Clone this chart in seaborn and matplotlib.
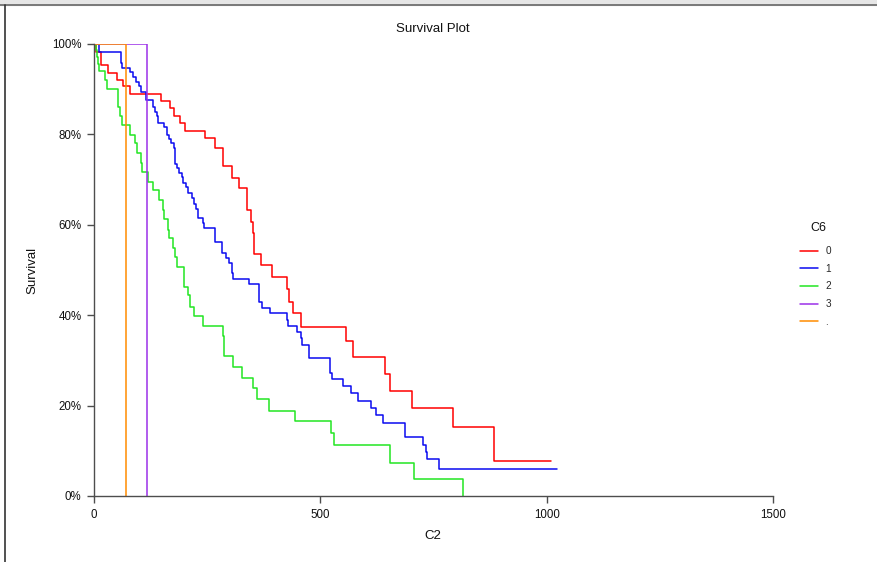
import numpy as np
import pandas as pd
import matplotlib
matplotlib.use("Agg")
import matplotlib.pyplot as plt
from matplotlib.ticker import PercentFormatter
from matplotlib.lines import Line2D
import seaborn as sns

# ---- data ----
groups = ["0", "1", "2", "3", "."]

t_0 = [0, 4, 15, 31, 51, 64, 79, 147, 167, 177, 189, 200, 245, 267, 284, 304, 321,
       337, 347, 351, 353, 370, 394, 427, 431, 440, 457, 557, 573, 643, 655, 702,
       792, 884, 1010]
s_0 = [100, 98.2, 95.4, 93.5, 92.0, 90.6, 88.9, 87.5, 85.8, 84.1, 82.5, 80.8, 79.1,
       77.1, 72.9, 70.3, 68.2, 63.3, 60.7, 58.1, 53.5, 51.1, 48.5, 45.8, 43.0, 40.4,
       37.3, 34.4, 30.8, 27.0, 23.2, 19.4, 15.3, 7.7, 7.7]

t_1 = [0, 11, 59, 62.5, 79, 86, 93, 99, 104.5, 115.5, 131, 135, 139, 142, 154.6,
       160.6, 165.7, 169.4, 176.7, 178.9, 180, 182.7, 187.8, 193.7, 197.3, 203.2,
       208.3, 215.8, 221.6, 225.3, 230.4, 240.1, 243, 267.3, 282.1, 291.6, 298.2,
       304.2, 307.7, 343.1, 363.8, 371.8, 388.8, 425.7, 427.9, 449.1, 456.6, 460.2,
       475, 521.4, 525.1, 549.4, 567.1, 583.9, 611.9, 623, 639.1, 687.5, 727.5,
       732.8, 735, 762.8, 1022]
s_1 = [100, 98.2, 95.9, 94.6, 93.7, 92.8, 91.7, 90.6, 89.4, 87.6, 86.0, 85.0, 84.1,
       82.5, 81.6, 79.9, 78.9, 78.0, 76.9, 75.2, 73.5, 72.5, 71.4, 70.5, 69.3, 68.4,
       67.0, 65.9, 64.5, 63.4, 61.6, 60.5, 59.4, 56.3, 53.7, 52.6, 51.5, 49.3, 47.9,
       46.8, 43.0, 41.7, 40.4, 38.9, 37.7, 36.3, 34.9, 33.3, 30.5, 27.3, 25.8, 24.3,
       22.7, 21.1, 19.4, 17.9, 16.2, 13.0, 11.3, 9.7, 8.1, 5.9, 5.9]

t_2 = [0, 4.4, 6.6, 8.8, 11, 25, 29.4, 53, 54.1, 56.8, 62.5, 78.9, 91.2, 95.7, 104.5,
       106.7, 120, 131, 144.3, 151.8, 155.3, 164.1, 166.3, 175.2, 178.9, 182.7, 199.5,
       208.3, 212.1, 221.6, 240.1, 284.3, 287.2, 307.7, 327.6, 351.9, 359.4, 386.6,
       444, 523.6, 530.8, 653.9, 707.6, 814.5]
s_2 = [100, 98.7, 97.1, 95.6, 94.1, 92.0, 90.0, 88.1, 86.1, 84.1, 82.1, 79.9, 78.0,
       75.8, 73.7, 71.7, 69.5, 67.7, 65.5, 63.3, 61.2, 58.8, 57.0, 54.8, 52.8, 50.7,
       46.3, 44.5, 41.9, 39.8, 37.6, 35.4, 31.0, 28.6, 26.2, 23.8, 21.4, 18.9, 16.7,
       13.9, 11.3, 7.4, 3.7, 0.0]

t_3 = [0, 117.7]
s_3 = [100, 0]

t_dot = [0, 70.7]
s_dot = [100, 0]

colors = {"0": "#ff0000", "1": "#0a0af0", "2": "#22e622", "3": "#9b30e8", ".": "#ff8c00"}

# ---- build long table ----
frames = []
for g, t, s in zip(groups, [t_0, t_1, t_2, t_3, t_dot], [s_0, s_1, s_2, s_3, s_dot]):
    frames.append(pd.DataFrame({"C2": t, "Survival": np.array(s) / 100.0, "C6": g}))
df = pd.concat(frames, ignore_index=True)

sns.set_theme(style="white")
plt.rcParams["font.family"] = ["Liberation Sans", "DejaVu Sans"]

W, H = 878, 562
fig = plt.figure(figsize=(W / 100, H / 100), dpi=100)
ax = fig.add_axes([94 / W, 1 - 496 / H, (773 - 94) / W, (496 - 44) / H])

sns.lineplot(data=df, x="C2", y="Survival", hue="C6", hue_order=groups,
             palette=colors, estimator=None, errorbar=None, sort=True,
             drawstyle="steps-post", linewidth=1.1, legend=False, ax=ax)

ax.set_xlim(0, 1500)
ax.set_ylim(0, 1)
ax.set_xticks([0, 500, 1000, 1500])
ax.set_yticks([0, 0.2, 0.4, 0.6, 0.8, 1.0])
ax.yaxis.set_major_formatter(PercentFormatter(xmax=1, decimals=0))
ax.set_xlabel("")
ax.set_ylabel("")
for side in ["top", "right"]:
    ax.spines[side].set_visible(False)
for side in ["left", "bottom"]:
    ax.spines[side].set_color("#4d4d4d")
    ax.spines[side].set_linewidth(1.0)
ax.tick_params(axis="both", which="major", direction="out", length=5, width=1,
               color="#4d4d4d", labelsize=8.3, labelcolor="#111111", pad=4,
               left=True, bottom=True)

fig.text(433 / W, 1 - 28.5 / H, "Survival Plot", ha="center", va="center",
         fontsize=9.5, color="#111111")
fig.text(433 / W, 1 - 536 / H, "C2", ha="center", va="center", fontsize=9.5,
         color="#111111")
fig.text(32 / W, 1 - 270 / H, "Survival", ha="center", va="center", rotation=90,
         fontsize=9.5, color="#111111")

# legend (title placed as its own text)
fig.text(818 / W, 1 - 228 / H, "C6", ha="center", va="center", fontsize=9,
         color="#111111")
handles = [Line2D([], [], color=colors[g], linewidth=1.1) for g in groups]
leg = fig.legend(handles, groups, loc="upper left",
                 bbox_to_anchor=(800 / W, 1 - 246 / H), bbox_transform=fig.transFigure,
                 frameon=False, fontsize=7.2,
                 handlelength=1.8, handletextpad=0.75, labelspacing=0.77,
                 borderpad=0, borderaxespad=0)

# window frame lines of the screenshot
fig.add_artist(plt.Rectangle((0, 1 - 5 / H), 1, 5 / H, transform=fig.transFigure,
                             color="#e6e6e6", zorder=0))
fig.add_artist(Line2D([0, 1], [1 - 5 / H, 1 - 5 / H], transform=fig.transFigure,
                      color="#666666", linewidth=1.2))
fig.add_artist(Line2D([5 / W, 5 / W], [0, 1 - 5 / H], transform=fig.transFigure,
                      color="#333333", linewidth=1.2))

fig.savefig("out.png", dpi=100)
